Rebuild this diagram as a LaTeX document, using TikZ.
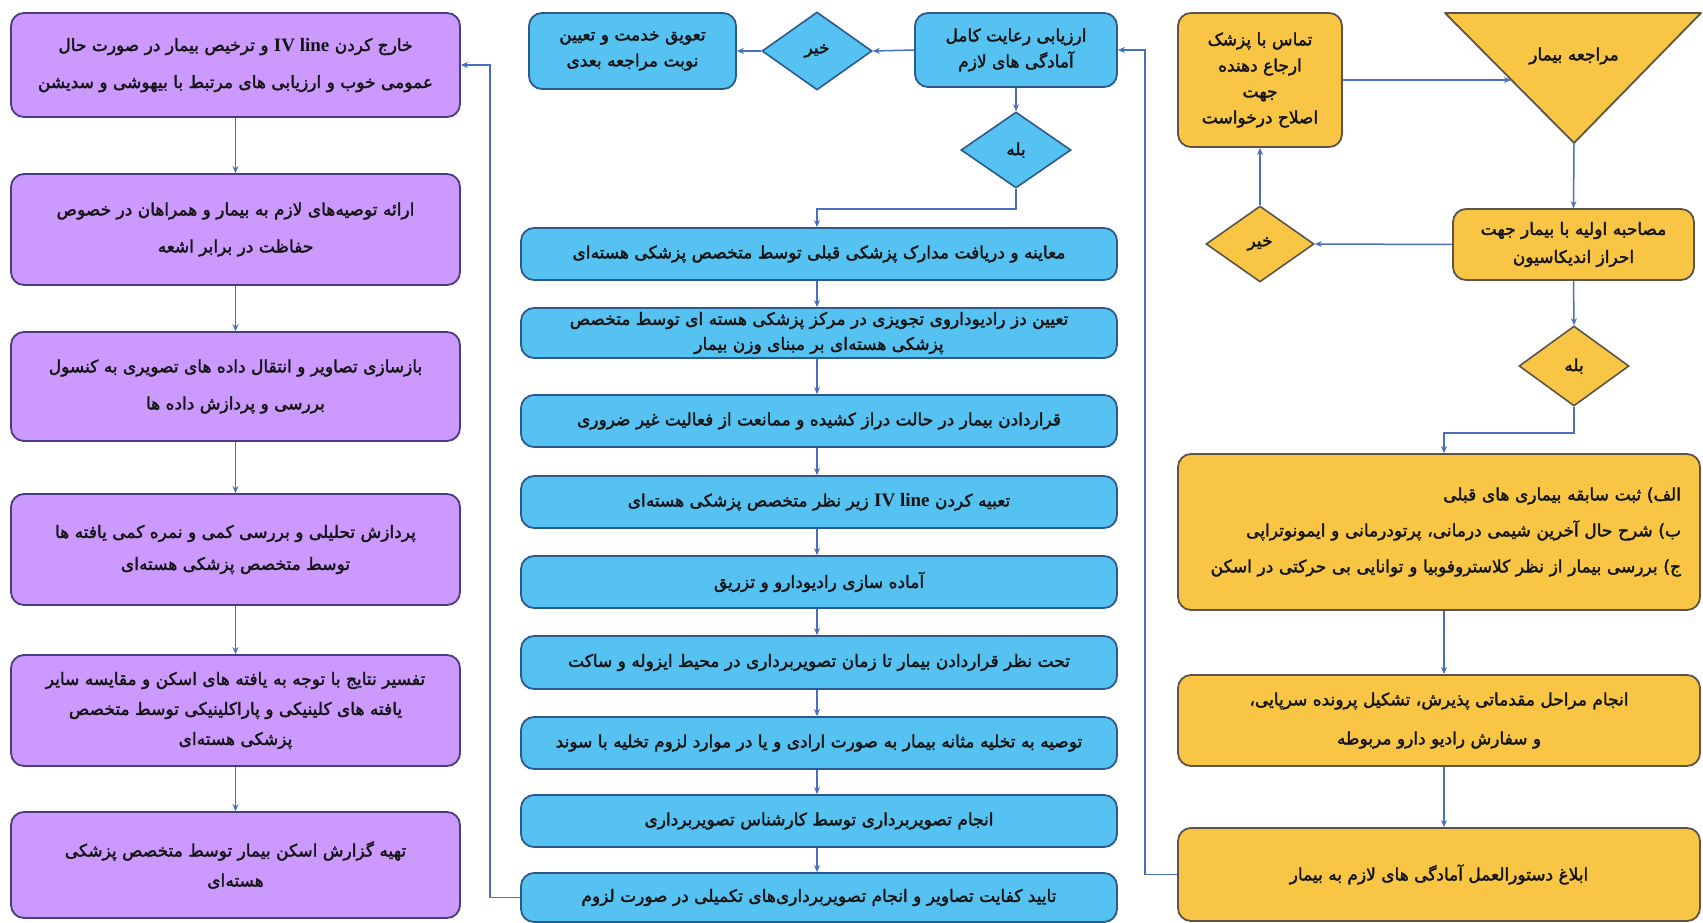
\documentclass[tikz,border=0pt]{standalone}
\usepackage{fontspec}
\usetikzlibrary{arrows.meta,shapes.geometric}
\TeXXeTstate=1
\newfontfamily\fafont[Script=Arabic,FakeBold=2]{DejaVu Sans}
\newfontfamily\latfont{Liberation Serif}
\newcommand\myR[1]{\beginR#1\endR}
\newcommand\ivl{\beginL{\latfont\bfseries\fontsize{19}{26}\selectfont IV line}\endL{}}
\definecolor{yfill}{HTML}{F8C644}
\definecolor{ybd}{HTML}{5A5548}
\definecolor{bfill}{HTML}{56C2F2}
\definecolor{bbd}{HTML}{2C5A8C}
\definecolor{pfill}{HTML}{CC99FF}
\definecolor{pbd}{HTML}{4A3C80}
\definecolor{lc}{HTML}{4A6FC0}
\definecolor{txt}{HTML}{141414}
\tikzset{
  x=1pt,y=-1pt,
  basebox/.style={line width=1.8pt, rounded corners=13pt, align=center, inner sep=2pt, text=txt},
  ybox/.style={basebox, draw=ybd, fill=yfill},
  bbox/.style={basebox, draw=bbd, fill=bfill},
  pbox/.style={basebox, draw=pbd, fill=pfill},
  ydia/.style={diamond, draw=ybd, fill=yfill, line width=1.6pt, inner sep=0pt, text=txt},
  bdia/.style={diamond, draw=bbd, fill=bfill, line width=1.6pt, inner sep=0pt, text=txt},
  conn/.style={draw=lc, line width=1.5pt, -{Stealth[length=7pt,width=6pt]}},
  fs/.style={font=\fafont\fontsize{#1}{26}\selectfont},
  fsl/.style 2 args={font=\fafont\fontsize{#1}{#2}\selectfont}
}
\begin{document}
\begin{tikzpicture}
\fill[white] (0,0) rectangle (1703,923);
\useasboundingbox (0,0) rectangle (1703,923);

% ---------- right column (yellow) ----------
\draw[ybd, fill=yfill, line width=1.8pt, line join=round] (1445,13) -- (1701,13) -- (1574,143) -- cycle;
\coordinate (triL) at (1511,80);
\coordinate (triB) at (1574,143);
\node[fs=17, text=txt] (moraj) at (1574,56) {\myR{مراجعه بیمار}};

\node[ybox, fsl={17}{26}, minimum width=164pt, minimum height=134pt] (tamas) at (1260,80)
  {\myR{تماس با پزشک}\\ \myR{ارجاع دهنده}\\ \myR{جهت}\\ \myR{اصلاح درخواست}};
\node[ybox, fsl={17}{28}, minimum width=241pt, minimum height=71pt] (mosa) at (1573.5,244.5)
  {\myR{مصاحبه اولیه با بیمار جهت}\\ \myR{احراز اندیکاسیون}};
\node[ydia, fs=17, minimum width=108pt, minimum height=76pt] (kheirR) at (1260,244) {\myR{خیر}};
\node[ydia, fs=17, minimum width=110pt, minimum height=80pt] (baleR) at (1574,366) {\myR{بله}};
\node[ybox, fsl={17}{36}, minimum width=522pt, minimum height=156pt, text width=484pt, align=right] (list) at (1439,532)
  {\myR{الف) ثبت سابقه بیماری های قبلی}\\
   \myR{ب) شرح حال آخرین شیمی درمانی، پرتودرمانی و ایمونوتراپی}\\
   \myR{ج) بررسی بیمار از نظر کلاستروفوبیا و توانایی بی حرکتی در اسکن}};
\node[ybox, fsl={17}{39}, minimum width=522pt, minimum height=91pt] (anjam) at (1439,720.5)
  {\myR{انجام مراحل مقدماتی پذیرش، تشکیل پرونده سرپایی،}\\ \myR{و سفارش رادیو دارو مربوطه}};
\node[ybox, fs=17, minimum width=522pt, minimum height=93pt] (eblagh) at (1439,874.5)
  {\myR{ابلاغ دستورالعمل آمادگی های لازم به بیمار}};

% ---------- middle column (blue) ----------
\node[bbox, fsl={17}{26}, minimum width=202pt, minimum height=74pt] (arz) at (1016,50)
  {\myR{ارزیابی رعایت کامل}\\ \myR{آمادگی های لازم}};
\node[bdia, fs=17, minimum width=110pt, minimum height=78pt] (kheirM) at (817,51) {\myR{خیر}};
\node[bbox, fsl={17}{26}, minimum width=207pt, minimum height=76pt] (taviq) at (632.5,51)
  {\myR{تعویق خدمت و تعیین}\\ \myR{نوبت مراجعه بعدی}};
\node[bdia, fs=17, minimum width=110pt, minimum height=76pt] (baleM) at (1016,150) {\myR{بله}};

\node[bbox, fs=17, minimum width=596pt, minimum height=52pt] (M1) at (819,254)
  {\myR{معاینه و دریافت مدارک پزشکی قبلی توسط متخصص پزشکی هسته‌ای}};
\node[bbox, fsl={17}{25}, minimum width=596pt, minimum height=50pt] (M2) at (819,333)
  {\myR{تعیین دز رادیوداروی تجویزی در مرکز پزشکی هسته ای توسط متخصص}\\ \myR{پزشکی هسته‌ای بر مبنای وزن بیمار}};
\node[bbox, fs=17, minimum width=596pt, minimum height=52pt] (M3) at (819,421)
  {\myR{قراردادن بیمار در حالت دراز کشیده و ممانعت از فعالیت غیر ضروری}};
\node[bbox, fs=17, minimum width=596pt, minimum height=52pt] (M4) at (819,502)
  {\myR{تعبیه کردن \ivl{} زیر نظر متخصص پزشکی هسته‌ای}};
\node[bbox, fs=17, minimum width=596pt, minimum height=52pt] (M5) at (819,582)
  {\myR{آماده سازی رادیودارو و تزریق}};
\node[bbox, fs=17, minimum width=596pt, minimum height=53pt] (M6) at (819,662.5)
  {\myR{تحت نظر قراردادن بیمار تا زمان تصویربرداری در محیط ایزوله و ساکت}};
\node[bbox, fs=17, minimum width=596pt, minimum height=52pt] (M7) at (819,743)
  {\myR{توصیه به تخلیه مثانه بیمار به صورت ارادی و یا در موارد لزوم تخلیه با سوند}};
\node[bbox, fs=17, minimum width=596pt, minimum height=52pt] (M8) at (819,821)
  {\myR{انجام تصویربرداری توسط کارشناس تصویربرداری}};
\node[bbox, fs=17, minimum width=596pt, minimum height=49pt] (M9) at (819,897.5)
  {\myR{تایید کفایت تصاویر و انجام تصویربرداری‌های تکمیلی در صورت لزوم}};

% ---------- left column (purple) ----------
\node[pbox, fsl={17}{37}, minimum width=449pt, minimum height=104pt] (P1) at (235.5,65)
  {\myR{خارج کردن \ivl{} و ترخیص بیمار در صورت حال}\\ \myR{عمومی خوب و ارزیابی های مرتبط با بیهوشی و سدیشن}};
\node[pbox, fsl={17}{37}, minimum width=449pt, minimum height=111pt] (P2) at (235.5,229.5)
  {\myR{ارائه توصیه‌های لازم به بیمار و همراهان در خصوص}\\ \myR{حفاظت در برابر اشعه}};
\node[pbox, fsl={17}{37}, minimum width=449pt, minimum height=109pt] (P3) at (235.5,386.5)
  {\myR{بازسازی تصاویر و انتقال داده های تصویری به کنسول}\\ \myR{بررسی و پردازش داده ها}};
\node[pbox, fsl={17}{32}, minimum width=449pt, minimum height=111pt] (P4) at (235.5,549.5)
  {\myR{پردازش تحلیلی و بررسی کمی و نمره کمی یافته ها}\\ \myR{توسط متخصص پزشکی هسته‌ای}};
\node[pbox, fsl={17}{30}, minimum width=449pt, minimum height=111pt] (P5) at (235.5,710.5)
  {\myR{تفسیر نتایج با توجه به یافته های اسکن و مقایسه سایر}\\ \myR{یافته های کلینیکی و پاراکلینیکی توسط متخصص}\\ \myR{پزشکی هسته‌ای}};
\node[pbox, fsl={17}{30}, minimum width=449pt, minimum height=106pt] (P6) at (235.5,865)
  {\myR{تهیه گزارش اسکن بیمار توسط متخصص پزشکی}\\ \myR{هسته‌ای}};

% ---------- connectors ----------
\draw[conn] (tamas.east) -- (triL);
\draw[conn] (triB) -- (mosa.north);
\draw[conn] (mosa.west) -- (kheirR.east);
\draw[conn] (kheirR.north) -- (tamas.south);
\draw[conn] (mosa.south) -- (baleR.north);
\draw[conn] (baleR.south) -- ++(0,26) -| ([xshift=5pt]list.north);
\draw[conn] ([xshift=5pt]list.south) -- ([xshift=5pt]anjam.north);
\draw[conn] ([xshift=5pt]anjam.south) -- ([xshift=5pt]eblagh.north);
\draw[conn] (eblagh.west) -- ++(-32,0) |- (arz.east);

\draw[conn] (arz.west) -- (kheirM.east);
\draw[conn] (kheirM.west) -- (taviq.east);
\draw[conn] (arz.south) -- (baleM.north);
\draw[conn] (baleM.south) -- ++(0,20) -| ([xshift=-2pt]M1.north);
\foreach \a/\b in {M1/M2,M2/M3,M3/M4,M4/M5,M5/M6,M6/M7,M7/M8,M8/M9}
  \draw[conn] ([xshift=-2pt]\a.south) -- ([xshift=-2pt]\b.north);
\draw[conn] (M9.west) -- ++(-30,0) |- (P1.east);
\foreach \a/\b in {P1/P2,P2/P3,P3/P4,P4/P5,P5/P6}
  \draw[conn] (\a.south) -- (\b.north);
\end{tikzpicture}
\end{document}
